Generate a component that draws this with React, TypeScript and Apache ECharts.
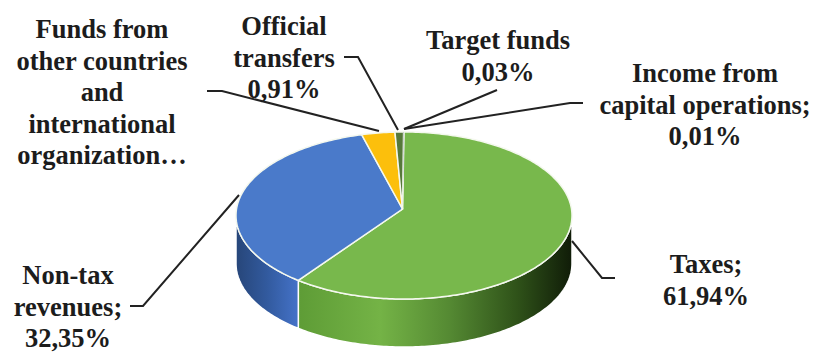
import React, { useEffect, useRef } from "react";
import * as echarts from "echarts";

const categories = [
  "Taxes",
  "Non-tax revenues",
  "Funds from other countries and international organization…",
  "Official transfers",
  "Target funds",
  "Income from capital operations",
];
const shares = [61.94, 32.35, 4.76, 0.91, 0.03, 0.01];
const labelLines = [
  ["Taxes;", "61,94%"],
  ["Non-tax", "revenues;", "32,35%"],
  ["Funds from", "other countries", "and", "international", "organization…"],
  ["Official", "transfers", "0,91%"],
  ["Target funds", "0,03%"],
  ["Income from", "capital operations;", "0,01%"],
];
const sliceColors = ["#78b84c", "#4a7aca", "#fcbf0c", "#56793a", "#9a9a9a", "#4a6ea8"];

// layout (pixels)
const CX = 404, CY = 215.5, RX = 168, RY = 83.5, AX = 402.5, AY = 209, DEPTH = 48;
const LABEL_POS: number[][] = [[706, 264], [68, 275], [102, 29], [284, 26], [498, 40], [705, 73]];
const LEADERS: number[][][] = [
  [[572, 241], [602, 278], [615, 278]],
  [[239, 195], [143, 306], [130, 306]],
  [[207, 91], [222, 91], [379, 131]],
  [[344, 57], [358, 57], [398, 130]],
  [[404, 129], [497, 90]],
  [[404, 129], [570, 103], [583, 103]],
];
// Foreshortening of the tilted disc: true angle -> drawn angle on the rim
const WARP = [[0, 0], [223, 219], [340, 346], [356.7, 357], [360, 360]];

const warp = (a: number) => {
  for (let i = 1; i < WARP.length; i++) {
    if (a <= WARP[i][0]) {
      const [a0, t0] = WARP[i - 1];
      const [a1, t1] = WARP[i];
      return t0 + ((a - a0) / (a1 - a0)) * (t1 - t0);
    }
  }
  return 360;
};
const rim = (t: number) => {
  const r = (t * Math.PI) / 180;
  return [CX + RX * Math.sin(r), CY - RY * Math.cos(r)];
};
const arc = (t0: number, t1: number) => {
  const pts: number[][] = [];
  const n = Math.max(1, Math.ceil(Math.abs(t1 - t0)));
  for (let i = 0; i <= n; i++) pts.push(rim(t0 + ((t1 - t0) * i) / n));
  return pts;
};
const total = shares.reduce((a, b) => a + b, 0);

const wallFill = (idx: number) =>
  idx === 0
    ? new echarts.graphic.LinearGradient(298, 0, 572, 0, [
        { offset: 0, color: "#5e9c36" },
        { offset: 0.3, color: "#74b346" },
        { offset: 0.55, color: "#558a33" },
        { offset: 0.8, color: "#2f5219" },
        { offset: 1, color: "#101c08" },
      ], true)
    : new echarts.graphic.LinearGradient(236, 0, 298, 0, [
        { offset: 0, color: "#274679" },
        { offset: 0.5, color: "#325a9e" },
        { offset: 1, color: "#4472c8" },
      ], true);

const renderItem = (params: any, api: any) => {
  const idx = params.dataIndex;
  const before = shares.slice(0, idx).reduce((a, b) => a + b, 0);
  const t0 = warp((before / total) * 360);
  const t1 = warp(((before + api.value(0)) / total) * 360);
  const children: any[] = [];

  const w0 = Math.max(t0, 90), w1 = Math.min(t1, 270);
  if (w1 > w0) {
    const top = arc(w0, w1);
    const bottom = top.map(([x, y]) => [x, y + DEPTH]).reverse();
    children.push({
      type: "polygon",
      shape: { points: top.concat(bottom) },
      style: { fill: wallFill(idx), stroke: "#ffffff", lineWidth: 1.5 },
    });
  }
  children.push({
    type: "polygon",
    shape: { points: [[AX, AY] as number[]].concat(arc(t0, t1)) },
    style: { fill: sliceColors[idx], stroke: "#f4f8ee", lineWidth: t1 - t0 < 1 ? 0 : 1.5 },
  });
  return { type: "group", children };
};

const renderAnnotation = (params: any) => {
  const idx = params.dataIndex;
  const [x, y] = LABEL_POS[idx];
  return {
    type: "group",
    children: [
      {
        type: "polyline",
        shape: { points: LEADERS[idx] },
        style: { stroke: "#222222", lineWidth: 2, fill: "none" },
      },
      ...labelLines[idx].map((line, i) => ({
        type: "text",
        style: {
          text: line,
          x,
          y: y + i * 31.5,
          align: "center",
          verticalAlign: "middle",
          font: 'bold 26.5px "Liberation Serif", serif',
          fill: "#1c1c1c",
        },
      })),
    ],
  };
};

export default function App() {
  const ref = useRef<HTMLDivElement>(null);
  useEffect(() => {
    document.body.style.margin = "0";
    const chart = echarts.init(ref.current!, undefined, { renderer: "svg" });
    const data = categories.map((name, i) => ({ name, value: [shares[i]] }));
    chart.setOption({
      animation: false,
      backgroundColor: "#ffffff",
      series: [
        { type: "custom", coordinateSystem: "none", silent: true, clip: false, renderItem, data, z: 2 },
        { type: "custom", coordinateSystem: "none", silent: true, clip: false, renderItem: renderAnnotation, data, z: 3 },
      ],
    });
    return () => chart.dispose();
  }, []);
  return <div ref={ref} style={{ width: 814, height: 352 }} />;
}
